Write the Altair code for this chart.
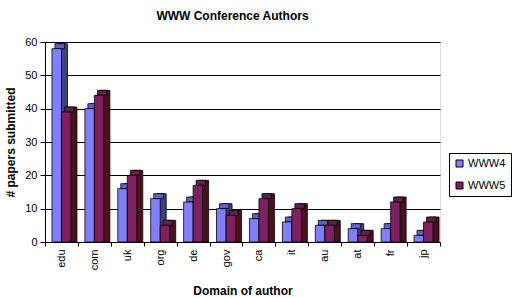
import altair as alt
import pandas as pd

domains = ["edu", "com", "uk", "org", "de", "gov", "ca", "it", "au", "at", "fr", "jp"]
www4 = [58, 40, 16, 13, 12, 10, 7, 6, 5, 4, 4, 2]
www5 = [39, 44, 20, 5, 17, 8, 13, 10, 5, 2, 12, 6]
series = ["WWW4", "WWW5"]
front_colors = ["#8080FF", "#802060"]
top_colors = ["#6060C8", "#60204A"]
side_colors = ["#404088", "#4A1020"]

rows = []
for d, a, b in zip(domains, www4, www5):
    rows.append({"domain": d, "series": "WWW4", "value": a})
    rows.append({"domain": d, "series": "WWW5", "value": b})
df = pd.DataFrame(rows)

FONT = "Liberation Sans"
BAR_W = 9.5
DX, DY = 6, -5

x_enc = alt.X(
    "domain:N", sort=domains,
    scale=alt.Scale(paddingInner=0, paddingOuter=0),
    axis=alt.Axis(
        title="Domain of author", labelAngle=-90, tickBand="extent",
        tickSize=4, domainColor="black", tickColor="black",
        labelColor="black", labelFont=FONT, labelFontSize=11, labelPadding=3,
        titleFont=FONT, titleFontSize=12, titleFontWeight="bold",
        titleColor="black", titlePadding=16, grid=False,
    ),
)
y_enc = alt.Y(
    "value:Q",
    scale=alt.Scale(domain=[0, 60], nice=False),
    axis=alt.Axis(
        title="# papers submitted", values=[0, 10, 20, 30, 40, 50, 60],
        grid=True, gridColor="black", gridWidth=1, gridOpacity=1,
        domainColor="black", tickColor="black", tickSize=5,
        labelColor="black", labelFont=FONT, labelFontSize=11, labelPadding=3,
        titleFont=FONT, titleFontSize=12, titleFontWeight="bold",
        titleColor="black", titlePadding=7,
    ),
)

legend = alt.Legend(
    title=None, orient="none", legendX=404, legendY=111,
    strokeColor="black", padding=5, rowPadding=10,
    symbolType="square", symbolSize=49, symbolStrokeColor="black",
    symbolStrokeWidth=1, labelFont=FONT, labelFontSize=11,
    labelColor="black", labelOffset=3,
)

layers = []
for i, s in enumerate(series):
    c = (-BAR_W / 2) if i == 0 else (BAR_W / 2)
    b = alt.Chart(df).transform_filter(alt.datum.series == s).encode(x=x_enc, y=y_enc)
    side = b.mark_bar(width=BAR_W, xOffset=c + DX, yOffset=DY, y2Offset=0,
                      color=side_colors[i], stroke="black", strokeWidth=0.8).encode(
        y2=alt.Y2Datum(0))
    top = b.mark_bar(width=BAR_W, xOffset=c + DX / 2, yOffset=DY, y2Offset=0,
                     color=top_colors[i], stroke="black", strokeWidth=0.8).encode(
        y2=alt.Y2("value:Q"))
    front = b.mark_bar(width=BAR_W, xOffset=c, stroke="black", strokeWidth=0.8).encode(
        color=alt.Color("series:N", sort=series,
                        scale=alt.Scale(domain=series, range=front_colors),
                        legend=legend)
    )
    layers += [side, top, front]

chart = alt.layer(*layers).properties(
    width=395, height=200,
    autosize=alt.AutoSizeParams(type="none"),
    padding={"left": 45, "top": 42, "right": 76, "bottom": 56},
    title=alt.Title(
        "WWW Conference Authors", font=FONT, fontSize=12, fontWeight="bold",
        color="black", anchor="middle", frame="group", dx=-10, offset=13,
    ),
).configure_view(stroke=None).configure(background="white")

chart.save("out.html", embed_options={"renderer": "svg", "actions": False})
